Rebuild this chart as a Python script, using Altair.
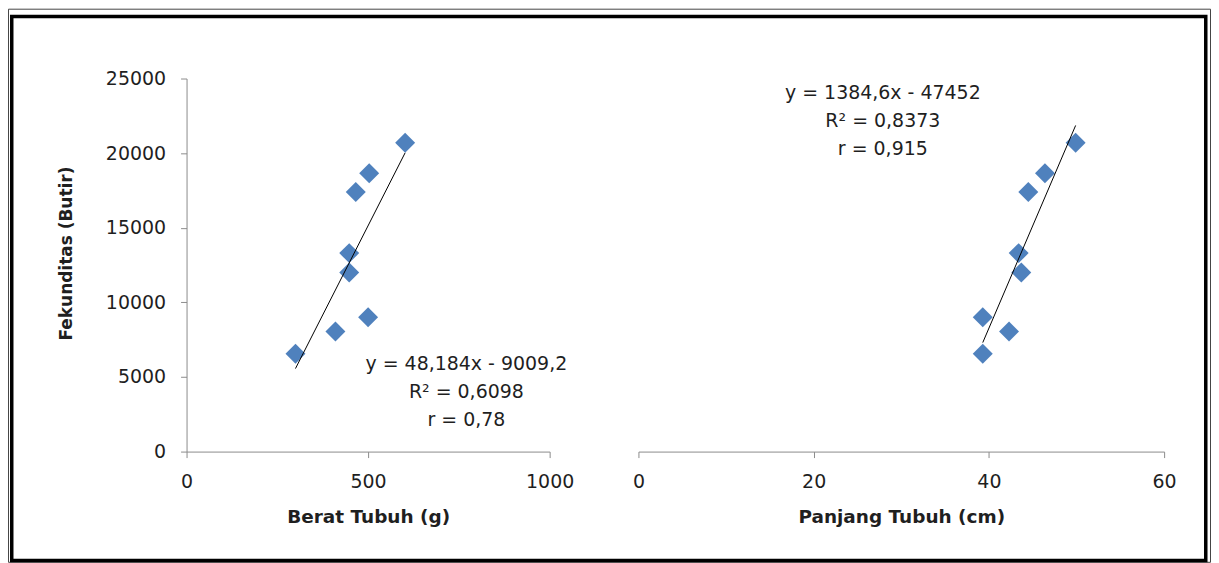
import altair as alt
import pandas as pd

# ---- data ----
berat = [300, 410, 500, 448, 448, 466, 503, 602]
panjang = [39.3, 42.3, 39.3, 43.7, 43.4, 44.5, 46.4, 49.9]
fekunditas = [6550, 8050, 9000, 12000, 13300, 17400, 18650, 20700]

eq_left = ["y = 48,184x - 9009,2", "R² = 0,6098", "r = 0,78"]
eq_right = ["y = 1384,6x - 47452", "R² = 0,8373", "r = 0,915"]

x_left_ticks = [0, 500, 1000]
x_right_ticks = [0, 20, 40, 60]
y_ticks = [0, 5000, 10000, 15000, 20000, 25000]

FONT = "DejaVu Sans"
BLUE = "#4F81BD"
AXIS_GRAY = "#8c8c8c"
TEXT = "#1f1f1f"

df_left = pd.DataFrame({"berat": berat, "fek": fekunditas})
df_right = pd.DataFrame({"panjang": panjang, "fek": fekunditas})
one = pd.DataFrame({"a": [0]})

y_scale = alt.Scale(domain=[0, 25000], nice=False)

common_axis = dict(
    grid=False,
    format="d",
    labelFont=FONT,
    labelFontSize=19,
    labelColor=TEXT,
    labelFlush=False,
    labelOverlap=False,
    domainColor=AXIS_GRAY,
    tickColor=AXIS_GRAY,
    tickSize=6,
    titleFont=FONT,
    titleFontWeight="bold",
    titleColor=TEXT,
)

# ---------- left panel ----------
xl = alt.X(
    "berat:Q",
    scale=alt.Scale(domain=[0, 1000], nice=False),
    axis=alt.Axis(
        values=x_left_ticks,
        title="Berat Tubuh (g)",
        titleFontSize=18.5,
        titleY=71,
        titleBaseline="alphabetic",
        labelPadding=15,
        **common_axis,
    ),
)
yl = alt.Y(
    "fek:Q",
    scale=y_scale,
    axis=alt.Axis(
        values=y_ticks,
        title="Fekunditas (Butir)",
        titleFontSize=17,
        titleAngle=270,
        titleX=-120,
        titleY=175,
        titleAlign="center",
        titleBaseline="middle",
        labelPadding=15,
        **common_axis,
    ),
)

base_l = alt.Chart(df_left)
pts_l = base_l.mark_point(shape="diamond", filled=True, size=400, color=BLUE, opacity=1).encode(x=xl, y=yl)
line_l = base_l.transform_regression("berat", "fek").mark_line(color="black", strokeWidth=1).encode(
    x="berat:Q", y="fek:Q"
)
txt_l = alt.Chart(one).mark_text(
    text=eq_left, align="center", baseline="alphabetic", font=FONT, fontSize=19,
    lineHeight=28.3, color=TEXT,
).encode(x=alt.value(280.5), y=alt.value(292))

frame_thin = alt.Chart(one).mark_rect(filled=False, stroke="#444444", strokeWidth=1).encode(
    x=alt.value(-178.5), x2=alt.value(1026.5), y=alt.value(-69.5), y2=alt.value(485)
)
frame_thick = alt.Chart(one).mark_rect(filled=False, stroke="#000000", strokeWidth=3.5).encode(
    x=alt.value(-175.25), x2=alt.value(1021.75), y=alt.value(-62.25), y2=alt.value(483.2)
)

left = alt.layer(frame_thin, frame_thick, pts_l, line_l, txt_l).properties(width=364, height=374)

# ---------- right panel ----------
xr = alt.X(
    "panjang:Q",
    scale=alt.Scale(domain=[0, 60], nice=False),
    axis=alt.Axis(
        values=x_right_ticks,
        title="Panjang Tubuh (cm)",
        titleFontSize=18.5,
        titleY=71,
        titleBaseline="alphabetic",
        labelPadding=15,
        **common_axis,
    ),
)
yr = alt.Y("fek:Q", scale=y_scale, axis=None)

base_r = alt.Chart(df_right)
pts_r = base_r.mark_point(shape="diamond", filled=True, size=400, color=BLUE, opacity=1).encode(x=xr, y=yr)
line_r = base_r.transform_regression("panjang", "fek").mark_line(color="black", strokeWidth=1).encode(
    x="panjang:Q", y="fek:Q"
)
txt_r = alt.Chart(one).mark_text(
    text=eq_right, align="center", baseline="alphabetic", font=FONT, fontSize=19,
    lineHeight=28.3, color=TEXT,
).encode(x=alt.value(245), y=alt.value(20.3))

right = alt.layer(pts_r, line_r, txt_r).properties(width=527, height=374)

chart = (
    alt.hconcat(left, right, spacing=89, bounds="flush")
    .properties(padding=0, background="white")
    .configure_view(stroke=None)
)

chart.save("out.html", embed_options={"renderer": "svg", "actions": False})
